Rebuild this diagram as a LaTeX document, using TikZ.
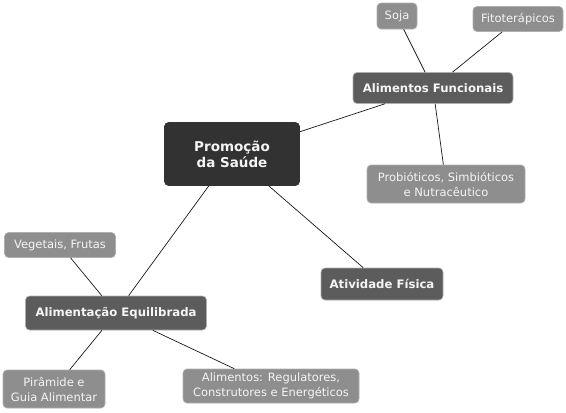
\documentclass[tikz,border=0pt]{standalone}
\usepackage{fontspec}
\setmainfont{DejaVu Sans}
\usetikzlibrary{positioning}
\definecolor{mapDark}{RGB}{50,50,50}
\definecolor{mapMid}{RGB}{92,92,92}
\definecolor{mapLeaf}{RGB}{142,142,142}
\definecolor{mapEdge}{RGB}{175,175,175}
\definecolor{mapLine}{RGB}{25,25,25}
\definecolor{mapText}{RGB}{245,245,245}
\tikzset{
  maproot/.style={fill=mapDark,draw=mapDark,line width=0.6pt,rounded corners=4pt,text=mapText,align=center,inner sep=0pt,font=\bfseries\fontsize{13.5}{16}\selectfont},
  mapmain/.style={fill=mapMid,draw=mapEdge,line width=0.6pt,rounded corners=4pt,text=mapText,align=center,inner sep=0pt,font=\bfseries\fontsize{11.7}{14}\selectfont},
  mapleaf/.style={fill=mapLeaf,draw=mapEdge,line width=0.6pt,rounded corners=4pt,text=mapText,align=center,inner sep=0pt,font=\fontsize{11.5}{15}\selectfont},
  maplink/.style={draw=mapLine,line width=0.7pt},
}

\begin{document}
\begin{tikzpicture}[x=1pt,y=-1pt]
\useasboundingbox (0,0) rectangle (566,413);

% Central topic and main branches.
\node[maproot,minimum width=135pt,minimum height=63pt] (promo) at (232,154) {Promoção\\da Saúde};
\node[mapmain,minimum width=160pt,minimum height=31pt] (funcio) at (433,88) {Alimentos Funcionais};
\node[mapmain,minimum width=181pt,minimum height=34pt] (equil) at (116,313) {Alimentação Equilibrada};
\node[mapmain,minimum width=122pt,minimum height=32pt] (ativ) at (382,284) {Atividade Física};

% Leaves.
\node[mapleaf,minimum width=40pt,minimum height=26pt] (soja) at (397,16) {Soja};
\node[mapleaf,minimum width=90pt,minimum height=25pt] (fito) at (518,19) {Fitoterápicos};
\node[mapleaf,minimum width=158pt,minimum height=38pt] (probio) at (446,184) {Probióticos, Simbióticos\\e Nutracêutico};
\node[mapleaf,minimum width=111pt,minimum height=25pt] (veget) at (60,245) {Vegetais, Frutas};
\node[mapleaf,minimum width=102pt,minimum height=38pt] (piram) at (54,389) {Pirâmide e\\Guia Alimentar};
\node[mapleaf,minimum width=176pt,minimum height=34pt] (regul) at (271,386) {Alimentos: Regulatores,\\Construtores e Energéticos};

\draw[maplink] (promo) -- (funcio);
\draw[maplink] (promo) -- (equil);
\draw[maplink] (promo) -- (ativ);
\draw[maplink] (funcio) -- (soja);
\draw[maplink] (funcio) -- (fito);
\draw[maplink] (funcio) -- (probio);
\draw[maplink] (equil) -- (veget);
\draw[maplink] (equil) -- (piram);
\draw[maplink] (equil) -- (regul);
\end{tikzpicture}
\end{document}
